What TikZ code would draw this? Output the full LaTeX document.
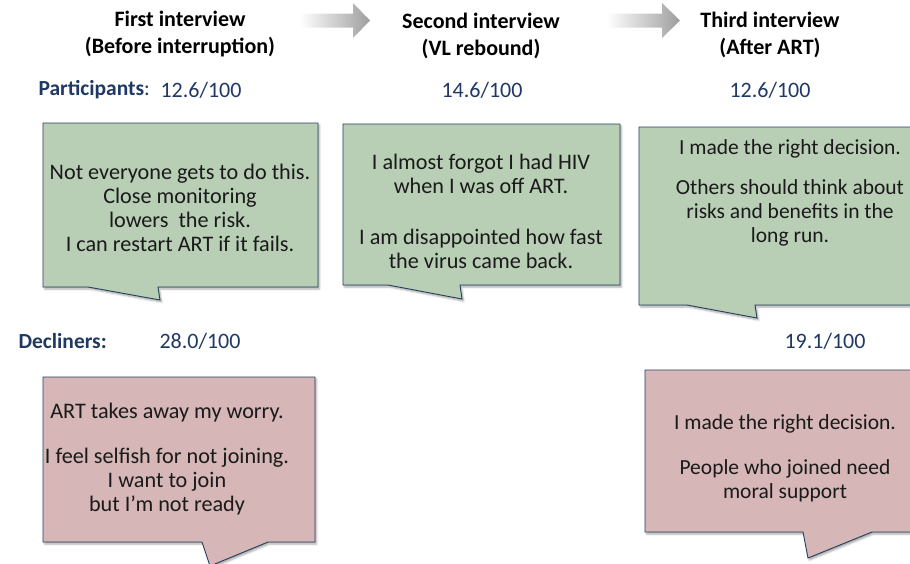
\documentclass[tikz,border=0pt]{standalone}
\usepackage{fontspec}
\setmainfont{Carlito}
\usetikzlibrary{shadows.blur}
\definecolor{navy}{HTML}{1F3864}
\definecolor{gfill}{HTML}{B8CFB5}
\definecolor{pfill}{HTML}{D6B6B6}
\definecolor{bord}{HTML}{243F60}
\definecolor{txt}{HTML}{1A1A1A}
\begin{document}
\begin{tikzpicture}[x=1pt,y=-1pt,
  head/.style={font=\bfseries\fontsize{22}{27}\selectfont, align=center, text=black},
  lab/.style={font=\fontsize{21.5}{25}\selectfont, text=navy, anchor=west},
  val/.style={font=\fontsize{22}{25}\selectfont, text=navy},
  quote/.style={font=\fontsize{22.2}{23.8}\selectfont, align=center, text=txt},
  quotesm/.style={quote, font=\fontsize{21.5}{24}\selectfont},
  bubble/.style={draw=bord, line width=0.9pt, line join=miter,
    blur shadow={shadow xshift=1.5pt, shadow yshift=-2pt, shadow blur steps=4, shadow opacity=35}},
  flow/.style={left color=white, right color=black!38}
]
\useasboundingbox (0,0) rectangle (910,563);
\clip (0,0) rectangle (910,563);

% gradient arrows
\shade[flow] (300,13.5) -- (353,13.5) -- (353,3) -- (370,20.5) -- (353,38) -- (353,27.5) -- (300,27.5) -- cycle;
\shade[flow] (607,13.5) -- (662,13.5) -- (662,3) -- (680,20.5) -- (662,38) -- (662,27.5) -- (607,27.5) -- cycle;

% headings
\node[head] (h1) at (180,34) {First interview\\(Before interruption)};
\node[head] (h2) at (481,36) {Second interview\\(VL rebound)};
\node[head] (h3) at (770,35) {Third interview\\(After ART)};

% rows
\node[lab] (plab) at (35,90) {\textbf{Participants}:};
\node[val] (p1) at (201,90) {12.6/100};
\node[val] (p2) at (482,90) {14.6/100};
\node[val] (p3) at (770,90) {12.6/100};
\node[lab] (dlab) at (15,341) {\textbf{Decliners:}};
\node[val] (d1) at (200,341) {28.0/100};
\node[val] (d3) at (825,341) {19.1/100};

% green callouts
\path[bubble, fill=gfill] (43,123) -- (318,123) -- (318,287) -- (158,287) -- (160,300) -- (88,287) -- (43,287) -- cycle;
\path[bubble, fill=gfill] (343,124) -- (620,124) -- (620,285) -- (460,285) -- (462,299) -- (388,285) -- (343,285) -- cycle;
\path[bubble, fill=gfill] (639,127) -- (916,127) -- (916,305) -- (755,305) -- (757,318) -- (687,305) -- (639,305) -- cycle;

% pink callouts
\path[bubble, fill=pfill] (43,377) -- (315,377) -- (315,542) -- (268,542) -- (210,566) -- (202,542) -- (43,542) -- cycle;
\path[bubble, fill=pfill] (645,370) -- (916,370) -- (916,532) -- (872,532) -- (808,558) -- (803,532) -- (645,532) -- cycle;

% quotes
\node[quote] (q1) at (180,208) {Not everyone gets to do this.\\Close monitoring\\lowers\ \ the risk.\\I can restart ART if it fails.};
\node[quote] (q2) at (481,211.5) {I almost forgot I had HIV\\when I was off ART.\\[27pt]I am disappointed how fast\\the virus came back.};
\node[quotesm] (q3) at (790,193) {I made the right decision.\\[16pt]Others should think about\\risks and benefits in the\\long run.};
\node[quote] (q4) at (167,459) {ART takes away my worry.\\[21pt]I feel selfish for not joining.\\I want to join\\but I’m not ready};
\node[quotesm] (q5) at (785,458) {I made the right decision.\\[21pt]People who joined need\\moral support};
\end{tikzpicture}
\end{document}
